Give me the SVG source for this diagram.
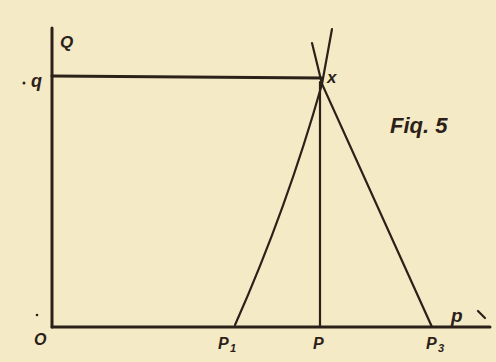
<svg xmlns="http://www.w3.org/2000/svg" width="496" height="362" viewBox="0 0 496 362">
<style>
.ln{stroke:#2b2119;stroke-width:3;fill:none;stroke-linecap:round}
.th{stroke:#2b2119;stroke-width:2.2;fill:none;stroke-linecap:round}
.lb{font-family:"Liberation Sans",Arial,sans-serif;font-style:italic;font-weight:bold;fill:#2b2119}
</style>
<rect width="496" height="362" fill="#f4eac6"/>
<g id="axes">
<line class="ln" x1="52" y1="28" x2="52" y2="327"/>
<line class="ln" x1="52" y1="327" x2="490" y2="327"/>
</g>
<g id="connectors">
<line class="ln" x1="52" y1="76" x2="322" y2="78"/>
<line class="th" x1="320" y1="82" x2="320" y2="327"/>
<path class="th" d="M235,325 Q287,208 322,84 L332,29"/>
<path class="th" d="M432,327 L322,84 L312,43"/>
</g>
<g id="labels">
<text class="lb" x="60" y="48" font-size="17">Q</text>
<circle cx="24" cy="83" r="1.5" fill="#2b2119"/>
<text class="lb" x="31" y="87" font-size="18">q</text>
<text class="lb" x="327" y="83" font-size="17">x</text>
<text class="lb" x="390" y="133" font-size="22">Fiq. 5</text>
<circle cx="37" cy="315" r="1.3" fill="#2b2119"/>
<text class="lb" x="34" y="345" font-size="16">O</text>
<text class="lb" x="218" y="349" font-size="16">P</text>
<text class="lb" x="230" y="352" font-size="11">1</text>
<text class="lb" x="313" y="349" font-size="16">P</text>
<text class="lb" x="426" y="349" font-size="16">P</text>
<text class="lb" x="438" y="352" font-size="11">3</text>
<text class="lb" x="451" y="322" font-size="19">p</text>
<line class="th" x1="478" y1="311" x2="485" y2="318" stroke-width="1.5"/>
</g>
</svg>
